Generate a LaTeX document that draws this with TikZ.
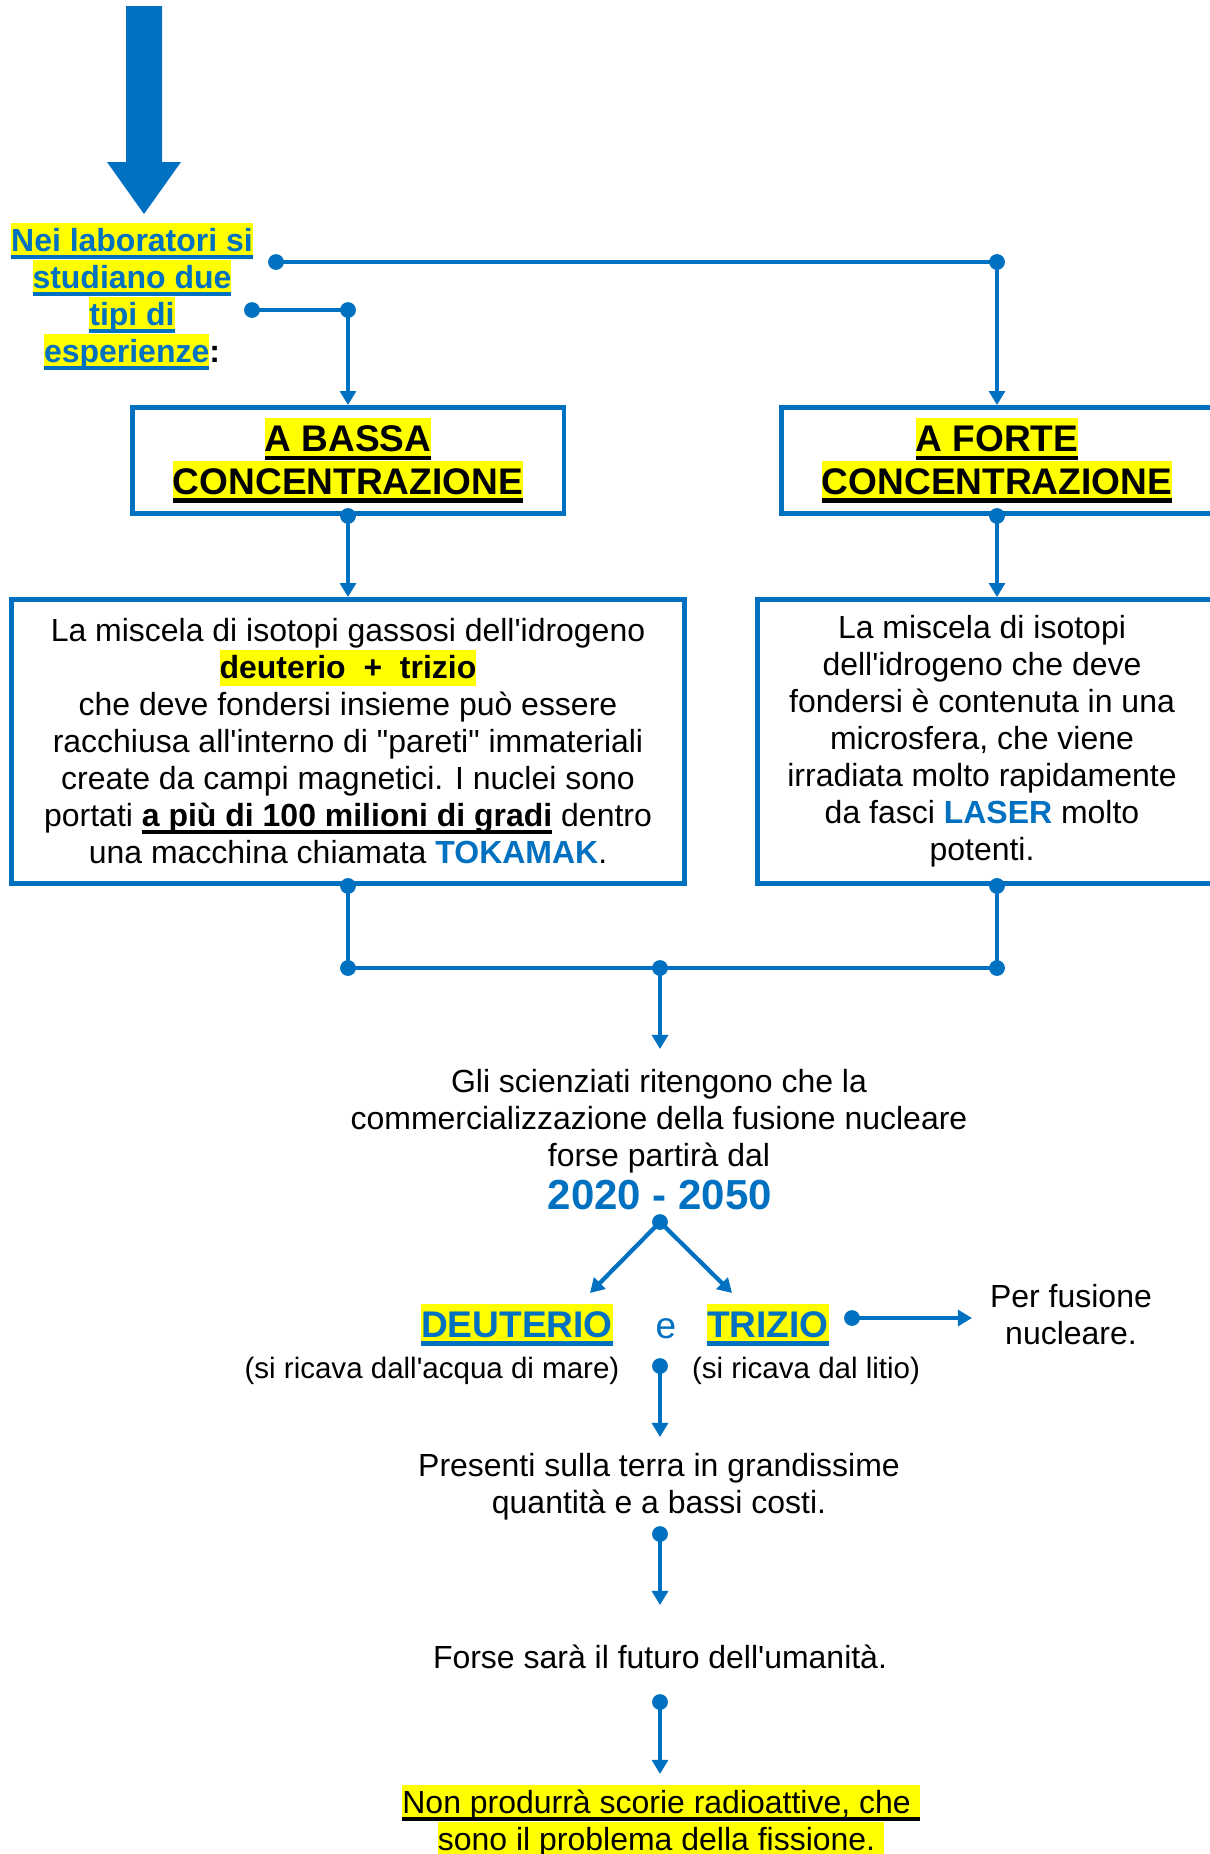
\documentclass[tikz,border=0pt]{standalone}
\usepackage{fontspec}
\setmainfont{Liberation Sans}[Ligatures=TeXOff]
\usetikzlibrary{arrows.meta,positioning,calc}
\definecolor{ofblue}{RGB}{0,112,192}
\definecolor{hlyellow}{RGB}{255,255,0}
\newsavebox{\ulbox}
\newcommand{\hlstrut}{\rule[-0.212em]{0pt}{1.117em}}
\newcommand{\ulin}[1]{\sbox{\ulbox}{#1}\rlap{\rule[-0.22em]{\wd\ulbox}{0.12em}}\usebox{\ulbox}}
\newcommand{\hlu}[1]{{\setlength{\fboxsep}{0pt}\colorbox{hlyellow}{\hlstrut\ulin{#1}}}}
\newcommand{\hlo}[1]{{\setlength{\fboxsep}{0pt}\colorbox{hlyellow}{\hlstrut#1}}}
\newcommand{\txtfont}{\fontsize{18.2}{21.06}\selectfont}
\newcommand{\bigfont}{\fontsize{21.1}{24.2}\selectfont}
\newcommand{\yearfont}{\fontsize{23.9}{27.5}\selectfont\bfseries}
\newcommand{\notefont}{\fontsize{16.8}{19.3}\selectfont}

\begin{document}
\begin{tikzpicture}[x=0.02cm, y=-0.02cm,
  conn/.style={ofblue, line width=2.4pt},
  arr/.style={conn, -{Triangle[width=9pt,length=8pt]}},
  dot/.style={fill=ofblue},
  box/.style={draw=ofblue, line width=2.8pt, inner sep=0pt},
  txt/.style={inner sep=0pt, align=center, font=\txtfont}]
  \useasboundingbox (0,0) rectangle (1210,1854);
  \fill[ofblue] (126,6) -- (162,6) -- (162,162) -- (181,162) -- (144,214) -- (107,162) -- (126,162) -- cycle;
  \node[txt, text=ofblue, font=\txtfont\bfseries] (lab) at (132,296.5)
    {\hlu{Nei laboratori si}\\ \hlu{studiano due}\\ \hlu{tipi di}\\ \hlu{esperienze}\textcolor{black}{:}};
  \node[box, minimum width=8.64cm, minimum height=2.12cm, align=center, font=\bigfont\bfseries] (bassa) at (348,460.5)
    {\hlu{A BASSA}\\ \hlu{CONCENTRAZIONE}};
  \node[box, minimum width=8.64cm, minimum height=2.12cm, align=center, font=\bigfont\bfseries] (forte) at (997,460.5)
    {\hlu{A FORTE}\\ \hlu{CONCENTRAZIONE}};
  \node[box, txt, minimum width=13.48cm, minimum height=5.68cm] (miscela) at (348,741.5)
    {La miscela di isotopi gassosi dell'idrogeno\\
     \textbf{\hlo{deuterio\ \ +\ \ trizio}}\\
     che deve fondersi insieme può essere\\
     racchiusa all'interno di "pareti" immateriali\\
     create da campi magnetici. I nuclei sono\\
     portati \textbf{\ulin{a più di 100 milioni di gradi}} dentro\\
     una macchina chiamata \textcolor{ofblue}{\textbf{TOKAMAK}}.};
  \node[box, minimum width=9.45cm, minimum height=5.68cm] (laserbox) at (993.75,741.5) {};
  \node[txt] (laser) at (982,741)
    {La miscela di isotopi\\ dell'idrogeno che deve\\ fondersi è contenuta in una\\ microsfera, che viene\\
     irradiata molto rapidamente\\ da fasci \textcolor{ofblue}{\textbf{LASER}} molto\\ potenti.};
  \node[txt] (scien) at (659,1121)
    {Gli scienziati ritengono che la\\ commercializzazione della fusione nucleare\\ forse partirà dal};
  \node[font=\yearfont, text=ofblue, inner sep=0pt, anchor=base] (anni) at (660,1209) {2020 - 2050};
  \node[inner sep=0pt, font=\bigfont\bfseries, text=ofblue] (deut) at (517,1325) {\hlu{DEUTERIO}};
  \node[inner sep=0pt, font=\bigfont, text=ofblue, anchor=base] (e) at (666,1338) {e};
  \node[inner sep=0pt, font=\bigfont\bfseries, text=ofblue] (trit) at (768,1325) {\hlu{TRIZIO}};
  \node[inner sep=0pt, font=\notefont, anchor=base] (mare) at (432,1378) {(si ricava dall'acqua di mare)};
  \node[inner sep=0pt, font=\notefont, anchor=base] (litio) at (806,1378) {(si ricava dal litio)};
  \node[txt] (fus) at (1071,1315) {Per fusione\\ nucleare.};
  \node[txt] (pres) at (659,1487) {Presenti sulla terra in grandissime\\ quantità e a bassi costi.};
  \node[inner sep=0pt, font=\txtfont, anchor=base] (futuro) at (660,1668) {Forse sarà il futuro dell'umanità.};
  \node[txt] (scorie) at (661,1821)
    {\hlu{Non produrrà scorie radioattive, che\ }\\ \hlu{sono il problema della fissione.\ }};
  \coordinate (s1) at (276,262);
  \coordinate (s2) at (252,310);
  \coordinate (k1) at (997,262);
  \coordinate (k2) at (348,310);
  \coordinate (m1) at (348,968);
  \coordinate (m2) at (997,968);
  \coordinate (m3) at (660,968);
  \coordinate (m3t) at (660,1049);
  \coordinate (d1) at (660,1222);
  \coordinate (d1l) at (590,1293);
  \coordinate (d1r) at (732,1293);
  \coordinate (d2) at (852,1318);
  \coordinate (d2t) at (972,1318);
  \coordinate (d3) at (660,1366);
  \coordinate (d3t) at (660,1437);
  \coordinate (d4) at (660,1534);
  \coordinate (d4t) at (660,1605);
  \coordinate (d5) at (660,1702);
  \coordinate (d5t) at (660,1774);
  \draw[conn] (s1) -- (k1);
  \draw[arr] (k1) -- (forte.north);
  \draw[conn] (s2) -- (k2);
  \draw[arr] (k2) -- (bassa.north);
  \draw[arr] (bassa.south) -- (miscela.north);
  \draw[arr] (forte.south) -- (k1 |- laserbox.north);
  \draw[conn] (miscela.south) -- (m1) -- (m2) -- (k1 |- laserbox.south);
  \draw[arr] (m3) -- (m3t);
  \draw[arr] (d1) -- (d1l);
  \draw[arr] (d1) -- (d1r);
  \draw[arr] (d2) -- (d2t);
  \draw[arr] (d3) -- (d3t);
  \draw[arr] (d4) -- (d4t);
  \draw[arr] (d5) -- (d5t);
  \foreach \p in {s1,s2,k1,k2,bassa.south,forte.south,miscela.south,k1 |- laserbox.south,m1,m2,m3,d1,d2,d3,d4,d5}
    \fill[dot] (\p) circle[radius=4.5pt];
\end{tikzpicture}
\end{document}
